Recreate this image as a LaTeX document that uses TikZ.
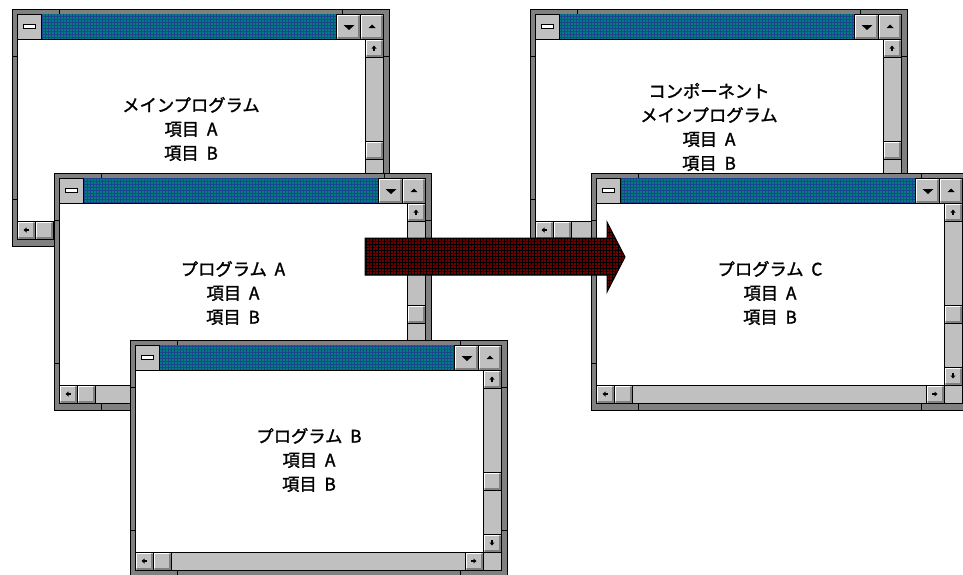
\documentclass[tikz,border=0pt]{standalone}
\usepackage{fontspec}
\newfontfamily\jpfont{Noto Sans CJK JP}[FakeBold=1.5]
\usetikzlibrary{patterns}
\definecolor{framegray}{HTML}{808080}
\definecolor{btngray}{HTML}{C0C0C0}
\definecolor{shadowgray}{HTML}{808080}
\definecolor{titleteal}{HTML}{007C80}
\definecolor{titlenavy}{HTML}{1A4690}
\definecolor{arrowred}{HTML}{700000}
\newcommand\widespacing{\spaceskip 0.45em\relax}
\tikzset{
  wintext/.style={font=\jpfont\fontsize{17.3}{24}\selectfont, align=center, inner sep=0pt,
    execute at begin node=\widespacing},
  trackbox/.style={fill=btngray, draw=black, line width=0.8pt},
}
\newcommand\bev[4]{%
  \fill[btngray] (#1,#2) rectangle (#3,#4);
  \draw[white, line width=1.2pt] (#1+1.2,#4-2) -- (#1+1.2,#2+1.2) -- (#3-2,#2+1.2);
  \draw[shadowgray, line width=1.6pt] (#1+1.5,#4-1.3) -- (#3-1.3,#4-1.3) -- (#3-1.3,#2+1.5);
  \draw[black, line width=0.8pt] (#1,#2) rectangle (#3,#4);
}
\newcommand\uparr[2]{\fill (#1-2.5,#2+0.5) -- (#1,#2-2.5) -- (#1+2.5,#2+0.5) -- cycle; \fill (#1-1,#2) rectangle (#1+1,#2+3);}
\newcommand\downarr[2]{\fill (#1-2.5,#2-0.5) -- (#1,#2+2.5) -- (#1+2.5,#2-0.5) -- cycle; \fill (#1-1,#2) rectangle (#1+1,#2-3);}
\newcommand\leftarr[2]{\fill (#1+0.5,#2-2.5) -- (#1-2.5,#2) -- (#1+0.5,#2+2.5) -- cycle; \fill (#1,#2-1) rectangle (#1+3,#2+1);}
\newcommand\rightarr[2]{\fill (#1-0.5,#2-2.5) -- (#1+2.5,#2) -- (#1-0.5,#2+2.5) -- cycle; \fill (#1,#2-1) rectangle (#1-3,#2+1);}
\newcommand\drawwin[2]{%
\begin{scope}[shift={(#1,#2)}]
  \filldraw[fill=framegray, draw=black, line width=1pt] (0,0) rectangle (377,237);
  \draw[line width=1pt] (47,0)--(47,5) (330,0)--(330,5) (0,47)--(5,47) (0,190)--(5,190)
    (371,47)--(377,47) (371,190)--(377,190) (47,230)--(47,237) (330,230)--(330,237);
  \filldraw[fill=white, draw=black, line width=1pt] (5,5) rectangle (371,230);
  \fill[titleteal] (29,5) rectangle (324,30);
  \fill[pattern=grid, pattern color=titlenavy] (29,5) rectangle (324,30);
  \filldraw[fill=btngray, draw=black, line width=0.8pt] (5,5) rectangle (29,30);
  \filldraw[fill=white, draw=black, line width=1pt] (11,15) rectangle (23,19);
  \bev{324}{5}{348}{30}
  \fill (331.5,16) -- (342.5,16) -- (337,21) -- cycle;
  \bev{348}{5}{371}{30}
  \fill (356.5,19) -- (363.5,19) -- (360,15.5) -- cycle;
  \draw[line width=1pt] (5,30) -- (371,30);
  \filldraw[trackbox] (353,30) rectangle (371,212);
  \bev{353}{30}{371}{48} \uparr{362}{39}
  \bev{353}{132}{371}{150}
  \bev{353}{194}{371}{212} \downarr{362}{203}
  \filldraw[trackbox] (5,212) rectangle (353,230);
  \bev{5}{212}{23}{230} \leftarr{14}{221}
  \bev{23}{212}{41}{230}
  \bev{335}{212}{353}{230} \rightarr{344}{221}
  \filldraw[trackbox] (353,212) rectangle (371,230);
\end{scope}}
\begin{document}
\begin{tikzpicture}[x=1pt, y=-1pt]
  \useasboundingbox (0,0) rectangle (963,574);
  \clip (0,0) rectangle (963,574);
  \fill[white] (0,0) rectangle (963,574);
  % main program window
  \drawwin{12}{9}
  \node[wintext] (tmain) at (191,129) {メインプログラム\\項目 A\\項目 B};
  % component window
  \drawwin{530}{9}
  \node[wintext] (tcomp) at (709,127) {コンポーネント\\メインプログラム\\項目 A\\項目 B};
  % program A
  \drawwin{54}{173}
  \node[wintext] (tprogA) at (233,293) {プログラム A\\項目 A\\項目 B};
  % program B
  \drawwin{130}{340}
  \node[wintext] (tprogB) at (309,460) {プログラム B\\項目 A\\項目 B};
  % program C
  \drawwin{591}{173}
  \node[wintext] (tprogC) at (770,293) {プログラム C\\項目 A\\項目 B};
  % big arrow
  \fill[arrowred] (365,238) -- (607,238) -- (607,222) -- (625,257) -- (607,292) -- (607,275) -- (365,275) -- cycle;
  \fill[pattern=grid, pattern color=black] (365,238) -- (607,238) -- (607,222) -- (625,257) -- (607,292) -- (607,275) -- (365,275) -- cycle;
  \draw[black, line width=1pt] (365,238) -- (607,238) -- (607,222) -- (625,257) -- (607,292) -- (607,275) -- (365,275) -- cycle;
\end{tikzpicture}
\end{document}
